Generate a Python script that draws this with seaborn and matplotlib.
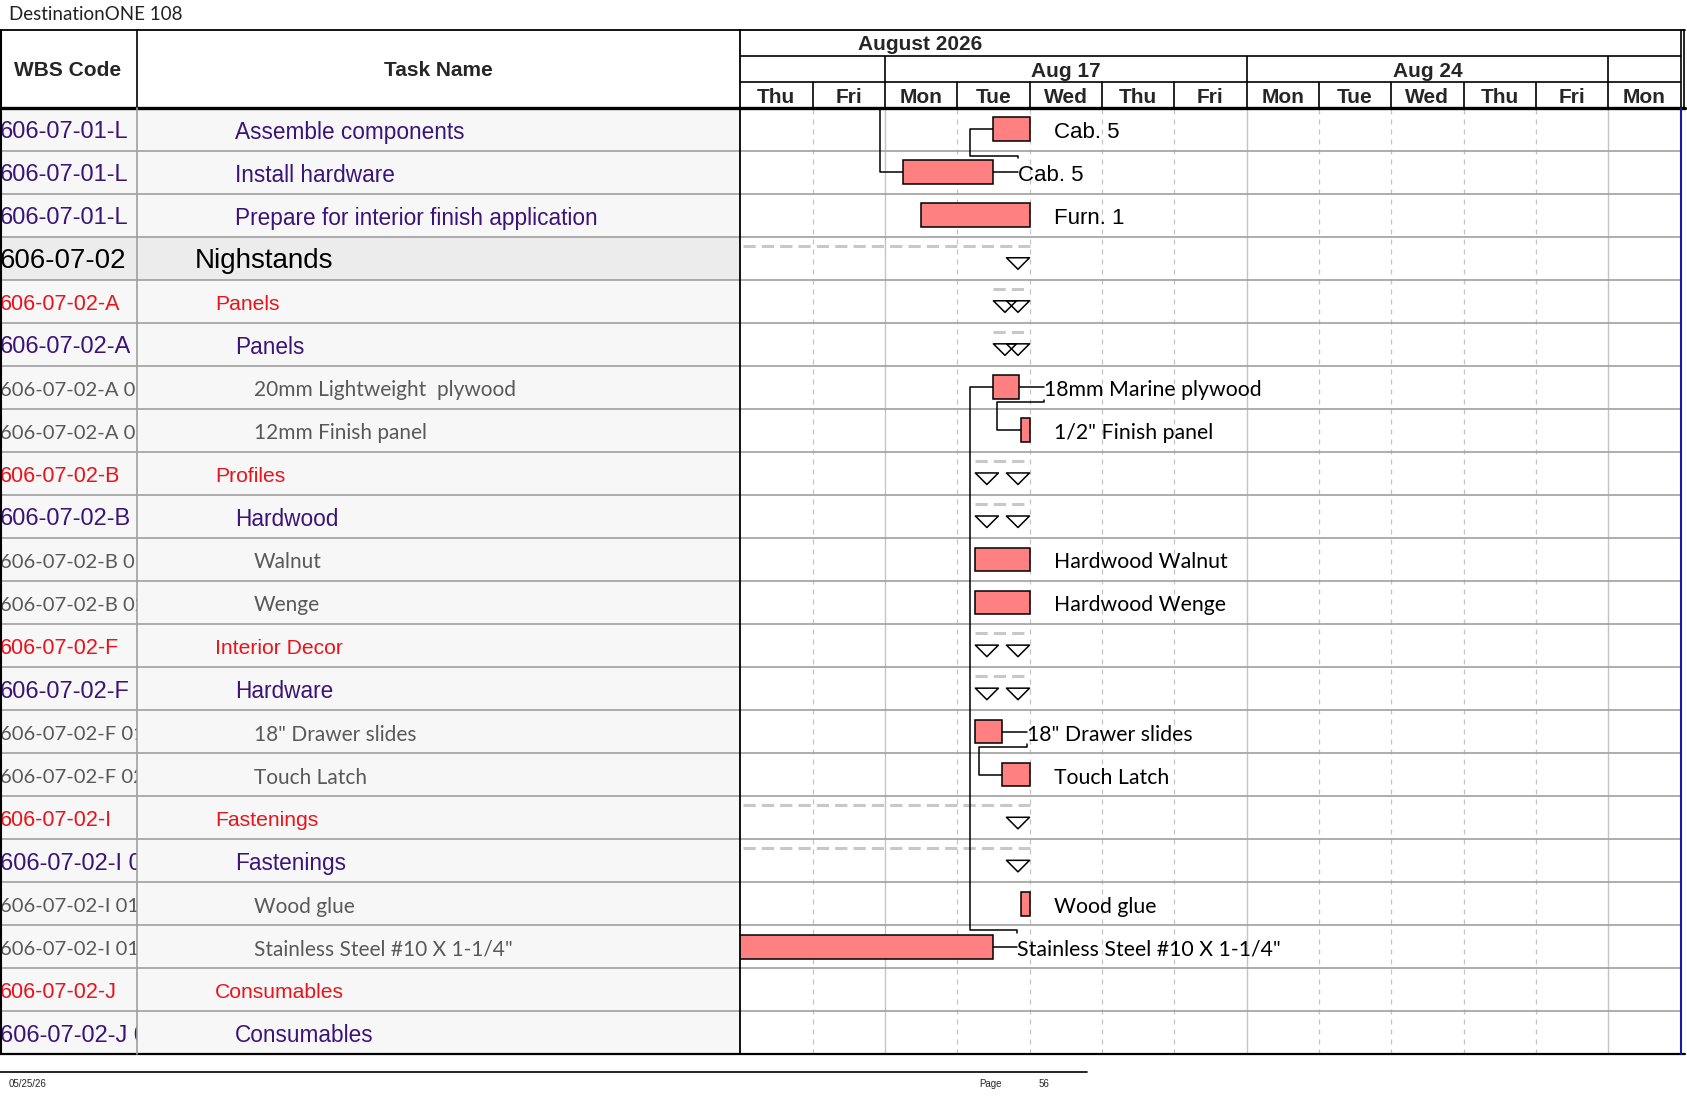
import numpy as np
import matplotlib
matplotlib.use("Agg")
import matplotlib.pyplot as plt
from matplotlib.path import Path
import seaborn as sns

# table rows
wbs_codes = ["606-07-01-L", "606-07-01-L", "606-07-01-L", "606-07-02",
             "606-07-02-A", "606-07-02-A", "606-07-02-A 01", "606-07-02-A 02",
             "606-07-02-B", "606-07-02-B", "606-07-02-B 01", "606-07-02-B 02",
             "606-07-02-F", "606-07-02-F", "606-07-02-F 01", "606-07-02-F 02",
             "606-07-02-I", "606-07-02-I 01", "606-07-02-I 0101", "606-07-02-I 0102",
             "606-07-02-J", "606-07-02-J 01"]
task_names = ["Assemble components", "Install hardware", "Prepare for interior finish application",
              "Nighstands", "Panels", "Panels", "20mm Lightweight  plywood", "12mm Finish panel",
              "Profiles", "Hardwood", "Walnut", "Wenge", "Interior Decor", "Hardware",
              '18" Drawer slides', "Touch Latch", "Fastenings", "Fastenings", "Wood glue",
              'Stainless Steel #10 X 1-1/4"', "Consumables", "Consumables"]
row_level = ["task", "task", "task", "group", "sum", "sub", "item", "item",
             "sum", "sub", "item", "item", "sum", "sub", "item", "item",
             "sum", "sub", "item", "item", "sum", "sub"]

# timescale (working days only)
day_names = ["Thu", "Fri", "Mon", "Tue", "Wed", "Thu", "Fri", "Mon", "Tue", "Wed", "Thu", "Fri", "Mon"]
week_labels = ["", "Aug 17", "Aug 24", ""]
week_bounds = [0, 2, 7, 12, 13]
month_label = "August 2026"

# task bars (day units on the page)
bar_rows = [0, 1, 2, 6, 7, 10, 11, 14, 15, 18, 19]
bar_start = [3.5, 2.25, 2.5, 3.5, 3.875, 3.25, 3.25, 3.25, 3.62, 3.875, -2.0]
bar_end = [4.0, 3.5, 4.0, 3.86, 4.0, 4.0, 4.0, 3.62, 4.0, 4.0, 3.49]
bar_labels = ["Cab. 5", "Cab. 5", "Furn. 1", "18mm Marine plywood", '1/2" Finish panel',
              "Hardwood Walnut", "Hardwood Wenge", '18" Drawer slides', "Touch Latch",
              "Wood glue", 'Stainless Steel #10 X 1-1/4"']

# summary spans
sum_rows = [3, 4, 5, 8, 9, 12, 13, 16, 17]
sum_start = [-3.0, 3.5, 3.5, 3.25, 3.25, 3.25, 3.25, -3.0, -3.0]
sum_end = [4.0, 4.0, 4.0, 4.0, 4.0, 4.0, 4.0, 4.0, 4.0]

# links (index into bar lists; None = predecessor on an earlier page)
link_pred = [1, 10, 3, 7, None]
link_succ = [0, 3, 4, 8, 1]

sns.set_theme(style="white")
ARIAL = ["Liberation Sans", "DejaVu Sans"]
CAL = ["Lato", "DejaVu Sans"]
plt.rcParams["font.family"] = ARIAL

PURPLE = "#3b1478"
RED = "#e8141c"
GRAY = "#595959"
BAR = "#ff8080"

W, H = 1687, 1097
fig = plt.figure(figsize=(W / 100, H / 100), dpi=100)


def box(x0, y0, x1, y1):
    return [x0 / W, 1 - y1 / H, (x1 - x0) / W, (y1 - y0) / H]


TOP, HB, BOT = 30, 107.5, 1054.4
XC, XG, XR = 136.6, 740.2, 1680.6
n = len(wbs_codes)
TY = 0.57  # text baseline offset inside a row

ax_wbs = fig.add_axes(box(0, HB, XC, BOT))
ax_task = fig.add_axes(box(XC, HB, XG, BOT))
ax_hdr = fig.add_axes(box(XG, TOP, XR, HB))
ax_g = fig.add_axes(box(XG, HB, XR, BOT))
ax_page = fig.add_axes([0, 0, 1, 1], zorder=5)
ax_page.patch.set_alpha(0)
for a in (ax_wbs, ax_task, ax_g):
    a.set_ylim(n, 0)
ax_wbs.set_xlim(0, XC)
ax_task.set_xlim(XC, XG)
ax_g.set_xlim(0, 13)
ax_hdr.set_xlim(0, 13)
ax_hdr.set_ylim(3, 0)
ax_page.set_xlim(0, W)
ax_page.set_ylim(H, 0)
for a in (ax_wbs, ax_task, ax_hdr, ax_g, ax_page):
    a.axis("off")

# ---- table ----
styles = {
    "task": dict(color=PURPLE, size=16.3, wsize=17, family=ARIAL, x=235),
    "group": dict(color="black", size=20, wsize=20, family=ARIAL, x=195),
    "sum": dict(color=RED, size=15.2, wsize=15.5, family=ARIAL, x=215),
    "sub": dict(color=PURPLE, size=16.3, wsize=17, family=ARIAL, x=235),
    "item": dict(color=GRAY, size=15, wsize=14.6, family=CAL, x=254),
}
for i in range(n):
    bg = "#ececec" if row_level[i] == "group" else "#f7f7f7"
    for a in (ax_wbs, ax_task):
        a.axhspan(i, i + 1, color=bg, lw=0, zorder=0)
        a.axhline(i + 1, color="#a0a0a0", lw=1.2, zorder=1)
    st = styles[row_level[i]]
    ax_wbs.text(0, i + TY, wbs_codes[i], color=st["color"], fontsize=st["wsize"],
                family=st["family"], va="center", ha="left", clip_on=True)
    ax_task.text(st["x"], i + TY, task_names[i], color=st["color"], fontsize=st["size"],
                 family=st["family"], va="center", ha="left")

# ---- gantt grid ----
for d in range(1, 13):
    if d in week_bounds:
        ax_g.axvline(d, color="#c4c4c4", lw=1, zorder=0)
    else:
        ax_g.axvline(d, color="#c4c4c4", lw=0.9, ls=(0, (4, 4)), zorder=0)
for i in range(1, n):
    ax_g.axhline(i, color="#a0a0a0", lw=1.2, zorder=0)

# summary dashed spans and triangles
sr = np.array(sum_rows)
ax_g.hlines(sr + 0.21, sum_start, sum_end, colors="#c8c8c8", lw=2.2, linestyles=(0, (4, 2)), zorder=1)
tri = Path([(-1, 0.5), (1, 0.5), (0, -0.5), (-1, 0.5)], closed=True)
tx, ty = [], []
for r, s, e in zip(sum_rows, sum_start, sum_end):
    if s >= 0:
        tx.append(s + 0.16)
        ty.append(r + 0.625)
    tx.append(e - 0.16)
    ty.append(r + 0.625)
ax_g.scatter(tx, ty, marker=tri, s=276, facecolors="none", edgecolors="black", linewidths=1.1, zorder=3)

# bars
br = np.array(bar_rows)
bs = np.array(bar_start)
be = np.array(bar_end)
ax_g.barh(br + 0.5, be - bs, left=bs, height=0.55, color=BAR, edgecolor="black", lw=1.1, zorder=3)
lab_x = be + 0.34
for k, (r, lbl) in enumerate(zip(bar_rows, bar_labels)):
    fam = ARIAL if r < 3 else CAL
    ax_g.text(lab_x[k], r + TY, lbl, fontsize=16 if r < 3 else 15.3, family=fam,
              color="black", va="center", ha="left")

# link lines
for p, s in zip(link_pred, link_succ):
    sx = bs[s]
    vx = sx - 0.32
    ys = bar_rows[s] + 0.5
    if p is None:
        xs, ys_ = [sx, vx, vx], [ys, ys, 0]
    else:
        pr = bar_rows[p]
        ax_g.plot([be[p], lab_x[p]], [pr + 0.5, pr + 0.5], color="black", lw=1.1, zorder=2)
        if pr > bar_rows[s]:
            py, tick = pr + 0.12, 0.06
        else:
            py, tick = pr + 0.85, -0.06
        xs = [sx, vx, vx, lab_x[p], lab_x[p]]
        ys_ = [ys, ys, py, py, py + tick]
    ax_g.plot(xs, ys_, color="black", lw=1.1, zorder=2, clip_on=False)

# ---- timescale header ----
ax_hdr.hlines([1, 2], 0, 13, colors="black", lw=1.2)
for d in week_bounds[1:-1]:
    ax_hdr.vlines(d, 1, 2, colors="black", lw=1.2)
ax_hdr.vlines(np.arange(1, 13), 2, 3, colors="black", lw=1.2)
ax_hdr.text(2.49, 0.58, month_label, fontsize=15, weight="bold", ha="center", va="center")
for k, lbl in enumerate(week_labels):
    ax_hdr.text((week_bounds[k] + week_bounds[k + 1]) / 2, 1.6, lbl, fontsize=15,
                weight="bold", ha="center", va="center")
for d, lbl in enumerate(day_names):
    ax_hdr.text(d + 0.5, 2.6, lbl, fontsize=15, weight="bold", ha="center", va="center")

# ---- page frame ----
P = ax_page
P.plot([0, 1685], [TOP, TOP], color="black", lw=1.3)
P.plot([0, 1685], [HB, HB], color="black", lw=2.4)
P.plot([0, 1685], [BOT, BOT], color="black", lw=1.6)
P.plot([0.8, 0.8], [TOP, BOT], color="black", lw=1.5)
P.plot([XC, XC], [TOP, HB], color="black", lw=1.2)
P.plot([XC, XC], [HB, BOT], color="#a0a0a0", lw=1.2)
P.plot([XG, XG], [TOP, BOT], color="black", lw=1.3)
P.plot([XR, XR], [TOP, HB], color="black", lw=1.2)
P.plot([1684.5, 1684.5], [TOP, HB], color="black", lw=1.2)
P.plot([XR + 0.5, XR + 0.5], [HB, BOT], color="#1a1aa0", lw=1.5)
P.text(68, 71, "WBS Code", fontsize=15, weight="bold", ha="center", va="center")
P.text(438, 71, "Task Name", fontsize=15, weight="bold", ha="center", va="center")
P.text(9, 15, "DestinationONE 108", fontsize=13.5, family=CAL, color="#222222", ha="left", va="center")

# footer
P.plot([0, 1087], [1072, 1072], color="black", lw=1.2)
P.text(9, 1084, "05/25/26", fontsize=7, ha="left", va="center")
P.text(979, 1084, "Page", fontsize=7, ha="left", va="center")
P.text(1039, 1084, "56", fontsize=7, ha="left", va="center")

fig.savefig("out.png", dpi=100, facecolor="white")
